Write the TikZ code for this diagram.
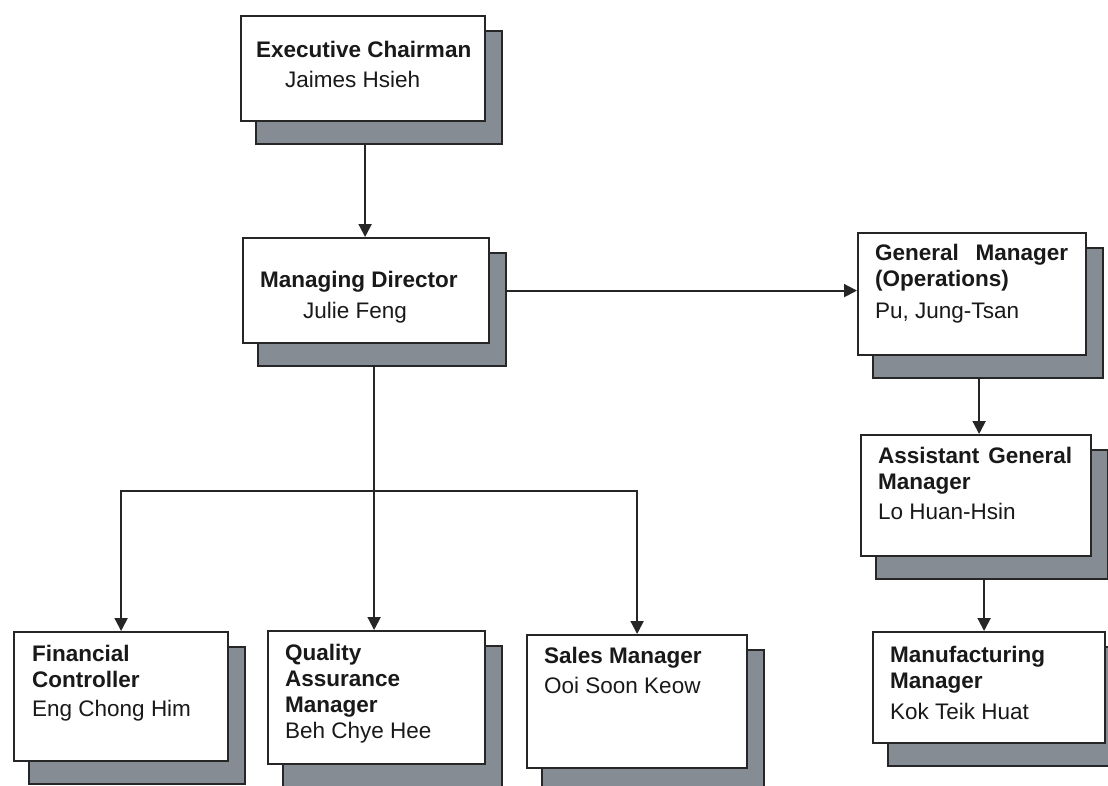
\documentclass[tikz,border=0pt]{standalone}
\usepackage{fontspec}
\setmainfont{Liberation Sans}
\usetikzlibrary{arrows.meta,backgrounds}
\definecolor{shadowgray}{RGB}{134,140,147}

\begin{document}
\begin{tikzpicture}[x=1pt,y=-1pt,
	post/.style={draw=black!85,line width=2.2pt,fill=white,anchor=north west,inner sep=0},
	shade/.style={draw=black!85,line width=2.2pt,fill=shadowgray},
	posttext/.style={anchor=north west,inner sep=0,align=left,font=\fontsize{22.5}{26}\selectfont,text=black!90},
	link/.style={line width=2pt,draw=black!85,-{Triangle[length=13pt,width=13pt]}}]
	\useasboundingbox (0,0) rectangle (1108,785);
	\node[post,minimum width=244pt,minimum height=105pt] (chair) at (240,15) {};
	\node[post,minimum width=246pt,minimum height=105pt] (md) at (242,237) {};
	\node[post,minimum width=228pt,minimum height=122pt] (gm) at (857,232) {};
	\node[post,minimum width=230pt,minimum height=121pt] (agm) at (860,434) {};
	\node[post,minimum width=232pt,minimum height=111pt] (mfg) at (872,631) {};
	\node[post,minimum width=214pt,minimum height=129pt] (fin) at (13,631) {};
	\node[post,minimum width=217pt,minimum height=133pt] (qa) at (267,630) {};
	\node[post,minimum width=220pt,minimum height=133pt] (sales) at (526,634) {};
	\begin{scope}[on background layer]
		\foreach \b in {chair,md,gm,agm,mfg,fin,qa,sales}
			\draw[shade] ([shift={(16pt,-16pt)}]\b.north west) rectangle ([shift={(16pt,-22pt)}]\b.south east);
	\end{scope}
	\node[posttext] (chairtxt) at (256,40.5) {\textbf{Executive Chairman}\\[4pt]\hspace*{29pt}Jaimes Hsieh};
	\node[posttext] (mdtxt) at (260,270.5) {\textbf{Managing Director}\\[5pt]\hspace*{43pt}Julie Feng};
	\node[posttext] (gmtxt) at (875,243.5) {\textbf{\makebox[193pt][s]{General Manager}}\\ \textbf{(Operations)}\\[6pt]Pu, Jung-Tsan};
	\node[posttext] (agmtxt) at (878,446.5) {\textbf{\makebox[194pt][s]{Assistant General}}\\ \textbf{Manager}\\[4pt]Lo Huan-Hsin};
	\node[posttext] (mfgtxt) at (890,645.5) {\textbf{Manufacturing}\\ \textbf{Manager}\\[5pt]Kok Teik Huat};
	\node[posttext] (fintxt) at (32,644.5) {\textbf{Financial}\\ \textbf{Controller}\\[3pt]Eng Chong Him};
	\node[posttext] (qatxt) at (285,643.5) {\textbf{Quality}\\ \textbf{Assurance}\\ \textbf{Manager}\\ Beh Chye Hee};
	\node[posttext] (salestxt) at (544,646.5) {\textbf{Sales Manager}\\[4pt]Ooi Soon Keow};
	\coordinate (chairout) at ([xshift=2pt,yshift=-22pt]chair.south);
	\coordinate (mdout) at ([xshift=8pt,yshift=-22pt]md.south);
	\coordinate (gmout) at ([xshift=7pt,yshift=-22pt]gm.south);
	\coordinate (agmout) at ([xshift=8pt,yshift=-22pt]agm.south);
	\coordinate (bar) at (0,491);
	\draw[link] (chairout) -- (chairout |- md.north);
	\draw[link] ([xshift=16pt]md.east) -- (md.east -| gm.west);
	\draw[link] (gmout) -- (gmout |- agm.north);
	\draw[link] (agmout) -- (agmout |- mfg.north);
	\draw[link] (mdout) -- (mdout |- qa.north);
	\draw[link] (mdout |- bar) -| (fin.north);
	\draw[link] (mdout |- bar) -| (sales.north);
\end{tikzpicture}
\end{document}
